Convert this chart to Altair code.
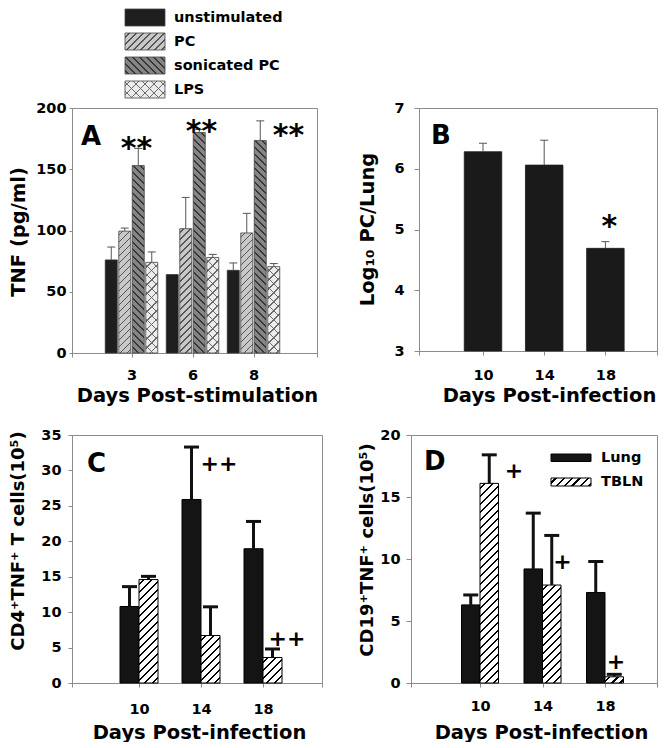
import altair as alt
import pandas as pd

FONT = "DejaVu Sans"
GRAY = "#8c8c8c"

# ---------------- data ----------------
# Panel A
days_A = ["3", "6", "8"]
series_A = ["unstimulated", "PC", "sonicated PC", "LPS"]
tnf_unstim = [76, 64, 67.5]
tnf_unstim_err = [10.5, 0, 6]
tnf_pc = [99.5, 101.5, 98]
tnf_pc_err = [2.5, 25.5, 16]
tnf_son = [153, 180, 173.5]
tnf_son_err = [14, 2.5, 16]
tnf_lps = [74, 78, 70.5]
tnf_lps_err = [8.5, 2.5, 2.5]
stars_A = ["**", "**", "**"]
stars_A_y = [173, 187, 184]

# Panel B
days_B = ["10", "14", "18"]
log_pc = [6.28, 6.06, 4.69]
log_pc_err = [0.14, 0.41, 0.11]
stars_B_day = ["18"]
stars_B = ["*"]
stars_B_y = [5.17]

# Panels C and D
days_CD = ["10", "14", "18"]
groups_CD = ["Lung", "TBLN"]
cd4_lung = [10.8, 25.9, 18.95]
cd4_lung_err = [2.8, 7.4, 3.85]
cd4_tbln = [14.6, 6.7, 3.6]
cd4_tbln_err = [0.45, 4.05, 1.2]
marks_C_day = ["14", "18"]
marks_C = ["++", "++"]
marks_C_y = [31.1, 6.35]

cd19_lung = [6.3, 9.2, 7.3]
cd19_lung_err = [0.8, 4.5, 2.5]
cd19_tbln = [16.1, 7.9, 0.5]
cd19_tbln_err = [2.3, 4.0, 0.2]
marks_D_day = ["10", "14", "18"]
marks_D = ["+", "+", "+"]
marks_D_y = [17.2, 9.8, 1.76]

ONE = pd.DataFrame({"k": [0]})


# ---------------- geometry helpers ----------------
class Geo:
    """Pixel layout of one panel's category axis (groups at 1, 2, 3)."""

    def __init__(self, width, step, first_center, bar_w, gap):
        self.width, self.step, self.c1, self.bw, self.gap = width, step, first_center, bar_w, gap
        self.x0 = 1 - first_center / step
        self.x1 = self.x0 + width / step


def long_df(days, names, values, errs, geo):
    rows = []
    n = len(names)
    total = n * geo.bw + (n - 1) * geo.gap
    for j, (s, vals, es) in enumerate(zip(names, values, errs)):
        for d, v, e in zip(days, vals, es):
            g = days.index(d) + 1
            start = g + (-total / 2 + j * (geo.bw + geo.gap)) / geo.step
            rows.append({"day": d, "series": s, "value": v, "err": e, "upper": v + e,
                         "g": g, "xs": start, "xe": start + geo.bw / geo.step,
                         "xc": start + geo.bw / 2 / geo.step})
    return pd.DataFrame(rows)


def hatch(w, h, period, lw, base, line, direction="/"):
    """Striped linear gradient whose stripes run at 45 degrees in pixel space."""
    h = max(h, 1.0)
    L = float(w + h)
    k = L / (w * w + h * h)
    if direction == "/":
        x1, y1, x2, y2 = 0.0, 0.0, w * k, h * k
    else:
        x1, y1, x2, y2 = 1.0, 0.0, 1.0 - w * k, h * k
    p = period / L
    l = lw / L
    stops = [{"offset": 0.0, "color": base}]
    t = p * 0.5
    while t < 1.0:
        a = round(t, 5)
        b = round(min(t + l, 1.0), 5)
        stops += [{"offset": a, "color": base}, {"offset": a, "color": line},
                  {"offset": b, "color": line}, {"offset": b, "color": base}]
        t += p
    stops.append({"offset": 1.0, "color": base})
    return {"gradient": "linear", "x1": x1, "y1": y1, "x2": x2, "y2": y2, "stops": stops}


class Panel:
    def __init__(self, geo, days, xtitle, xlabpad, xtitle_x, xtitle_y, ydom, ytitle, yvalues,
                 ytick, ylabpad, ytitle_x, ytitle_y, ytitle_size=19.5):
        self.geo = geo
        self.base = ydom[0]
        expr = " : ".join(f"datum.value == {i + 1} ? '{d}'" for i, d in enumerate(days)) + " : ''"
        self.xs = alt.Scale(domain=[geo.x0, geo.x1], nice=False, zero=False)
        self.xa = alt.Axis(title=xtitle, values=[geo.x0, 1, 2, 3, geo.x1], labelExpr=expr,
                           labelAngle=0, tickSize=4, labelPadding=xlabpad, titleX=xtitle_x,
                           titleY=xtitle_y, titleAlign="center", titleBaseline="alphabetic",
                           grid=False)
        self.ys = alt.Scale(domain=ydom, nice=False, zero=False)
        self.ya = alt.Axis(title=ytitle, values=yvalues, tickSize=ytick, labelPadding=ylabpad,
                           titleAngle=270, titleAlign="center", titleBaseline="middle",
                           titleX=ytitle_x, titleY=ytitle_y, titleFontSize=ytitle_size,
                           grid=False)

    def X(self, f):
        return alt.X(f, scale=self.xs, axis=self.xa)

    def Y(self, f):
        return alt.Y(f, scale=self.ys, axis=self.ya)


def bars(P, df, **mk):
    return alt.Chart(df).mark_bar(**mk).encode(
        x=P.X("xs:Q"), x2="xe:Q", y=P.Y("value:Q"), y2=alt.datum(P.base))


def errors(P, df, color, thick, cap_px):
    d = df[df["err"] > 0].copy()
    half = cap_px / 2 / P.geo.step
    d["cl"] = d["xc"] - half
    d["cr"] = d["xc"] + half
    rule = alt.Chart(d).mark_rule(color=color, strokeWidth=thick).encode(
        x=P.X("xc:Q"), y=P.Y("value:Q"), y2="upper:Q")
    cap = alt.Chart(d).mark_rule(color=color, strokeWidth=thick).encode(
        x=P.X("cl:Q"), x2="cr:Q", y=P.Y("upper:Q"))
    return [rule, cap]


def annot(P, days, day, label, yv, size, dx, dy):
    d = pd.DataFrame({"g": [days.index(day) + 1], "label": [label], "yv": [yv]})
    return alt.Chart(d).mark_text(font=FONT, fontWeight="bold", fontSize=size,
                                  dx=dx, dy=dy, color="black").encode(
        x=P.X("g:Q"), y=P.Y("yv:Q"), text="label:N")


def letter(t, x, y):
    return alt.Chart(pd.DataFrame({"t": [t]})).mark_text(
        font=FONT, fontWeight="bold", fontSize=26, align="left", baseline="middle",
        color="black").encode(x=alt.value(x), y=alt.value(y), text="t:N")


def swatch(x, x2, y, y2, fill, stroke=None, sw=1):
    kw = dict(fill=fill)
    if stroke:
        kw.update(stroke=stroke, strokeWidth=sw)
    else:
        kw.update(strokeWidth=0)
    return alt.Chart(ONE).mark_rect(**kw).encode(
        x=alt.value(x), x2=alt.value(x2), y=alt.value(y), y2=alt.value(y2))


def label_text(t, x, y):
    return alt.Chart(pd.DataFrame({"t": [t]})).mark_text(
        font=FONT, fontWeight="bold", fontSize=14.5, align="left", baseline="middle",
        color="black").encode(x=alt.value(x), y=alt.value(y), text="t:N")


# ---------------- styles ----------------
def style_A(series, w, h):
    if series == "PC":
        return [hatch(w, h, 7, 1.6, "#c8c8c8", "#555555", "/")]
    if series == "sonicated PC":
        return [hatch(w, h, 7, 1.6, "#858585", "#363636", "\\")]
    if series == "LPS":
        return [hatch(w, h, 9, 1.4, "#ececec", "#6a6a6a", "/"),
                hatch(w, h, 9, 1.4, "rgba(0,0,0,0)", "#6a6a6a", "\\")]
    return ["#1e1e1e"]


def tbln_fill(w, h):
    return hatch(w, h, 8, 2.2, "#ffffff", "#000000", "/")


# ---------------- Panel A ----------------
WA, HA = 245, 245
geoA = Geo(WA, 61.0, 59.5, 12.0, 1.5)
dfA = long_df(days_A, series_A, [tnf_unstim, tnf_pc, tnf_son, tnf_lps],
              [tnf_unstim_err, tnf_pc_err, tnf_son_err, tnf_lps_err], geoA)
pA = Panel(geoA, days_A, "Days Post-stimulation", 11, 125, 48.5, [0, 200], "TNF (pg/ml)",
           [0, 50, 100, 150, 200], 3, 3, -53.25, 123.5)
ppuA = HA / 200.0
layersA = [bars(pA, dfA[dfA["series"] == "unstimulated"], fill="#1e1e1e", stroke="#333333",
                strokeWidth=0.8)]
for i in range(len(dfA)):
    r = dfA.iloc[i]
    if r["series"] == "unstimulated":
        continue
    for j, f in enumerate(style_A(r["series"], geoA.bw, r["value"] * ppuA)):
        kw = dict(fill=f, stroke="#444444", strokeWidth=0.8) if j == 0 else dict(fill=f, strokeWidth=0)
        layersA.append(bars(pA, dfA.iloc[[i]], **kw))
layersA += errors(pA, dfA, "#555555", 1, 8)
for d, s, yv, dx in zip(days_A, stars_A, stars_A_y, [5, 9, 35]):
    layersA.append(annot(pA, days_A, d, s, yv, 30, dx, 8))
layersA.append(letter("A", 9, 29))
leg_tops = [-99, -75, -51, -27]
for name, top in zip(series_A, leg_tops):
    for j, f in enumerate(style_A(name, 40, 17)):
        layersA.append(swatch(53, 93, top, top + 17, f, "#444444" if j == 0 else None, 0.8))
    layersA.append(label_text(name, 102, top + 8.5))
A = alt.layer(*layersA).properties(width=WA, height=HA)

# ---------------- Panel B ----------------
WB, HB = 238, 243
geoB = Geo(WB, 61.2, 64.0, 37.5, 0)
dfB = long_df(days_B, ["PC"], [log_pc], [log_pc_err], geoB)
pB = Panel(geoB, days_B, "Days Post-infection", 13, 130, 50.5, [3, 7], "Log\u2081\u2080 PC/Lung",
           [3, 4, 5, 6, 7], 5, 10, -52, 121)
layersB = [bars(pB, dfB, fill="#1a1a1a", stroke="#1a1a1a", strokeWidth=0.8)]
layersB += errors(pB, dfB, "#555555", 1, 8)
for d, s, yv in zip(stars_B_day, stars_B, stars_B_y):
    layersB.append(annot(pB, days_B, d, s, yv, 30, 4, 8))
layersB.append(letter("B", 12, 28))
B = alt.layer(*layersB).properties(width=WB, height=HB)

# ---------------- Panels C, D ----------------
WC, HC = 250, 248
geoC = Geo(WC, 62.0, 67.0, 19.0, 0)
dfC = long_df(days_CD, groups_CD, [cd4_lung, cd4_tbln], [cd4_lung_err, cd4_tbln_err], geoC)
pC = Panel(geoC, days_CD, "Days Post-infection", 15, 127, 55, [0, 35],
           "CD4\u207aTNF\u207a T cells(10\u2075)", list(range(0, 36, 5)), 4, 7, -54, 105.5, 18)

WD, HD = 246, 248
geoD = Geo(WD, 62.5, 69.0, 18.5, 0)
dfD = long_df(days_CD, groups_CD, [cd19_lung, cd19_tbln], [cd19_lung_err, cd19_tbln_err], geoD)
pD = Panel(geoD, days_CD, "Days Post-infection", 12, 130, 55, [0, 20],
           "CD19\u207aTNF\u207a cells(10\u2075)", [0, 5, 10, 15, 20], 5, 6, -44, 114.5, 18)


def cd_layers(P, df, ppu, mark_days, marks, marks_y, dxs, lab, lab_xy):
    ls = [bars(P, df[df["series"] == "Lung"], fill="#141414", stroke="#000000", strokeWidth=1)]
    for i in range(len(df)):
        r = df.iloc[i]
        if r["series"] != "TBLN":
            continue
        ls.append(bars(P, df.iloc[[i]], fill=tbln_fill(P.geo.bw, r["value"] * ppu),
                       stroke="#000000", strokeWidth=1))
    ls += errors(P, df, "#111111", 3, 15)
    for d, s, yv, dx in zip(mark_days, marks, marks_y, dxs):
        ls.append(annot(P, days_CD, d, s, yv, 22, dx, 1))
    ls.append(letter(lab, *lab_xy))
    return ls


C = alt.layer(*cd_layers(pC, dfC, HC / 35.0, marks_C_day, marks_C, marks_C_y, [18, 24],
                         "C", (15, 29))).properties(width=WC, height=HC)

layersD = cd_layers(pD, dfD, HD / 20.0, marks_D_day, marks_D, marks_D_y, [34, 20, 11], "D", (13, 27))
layersD += [
    swatch(140, 180, 19, 26.5, "#141414", "#000000", 1),
    label_text("Lung", 190, 22.5),
    swatch(140, 180, 43, 51, tbln_fill(40, 8), "#000000", 1),
    label_text("TBLN", 190, 47),
]
D = alt.layer(*layersD).properties(width=WD, height=HD)

# ---------------- layout ----------------
NOPAD = {"left": 0, "top": 0, "right": 0, "bottom": 0}
row1 = alt.hconcat(A, B, spacing=102, bounds="flush")
row2 = alt.hconcat(C, D, spacing=89, bounds="flush")
chart = alt.vconcat(row1, row2, spacing=20, padding=NOPAD).configure(padding=NOPAD).configure_axis(
    labelFont=FONT, labelFontWeight="bold", labelFontSize=14.5, labelColor="black",
    titleFont=FONT, titleFontWeight="bold", titleFontSize=19.5, titleColor="black",
    domainColor=GRAY, tickColor=GRAY, grid=False,
).configure_view(stroke=GRAY, strokeWidth=1)

chart.save("out.html", embed_options={"renderer": "svg", "actions": False})
